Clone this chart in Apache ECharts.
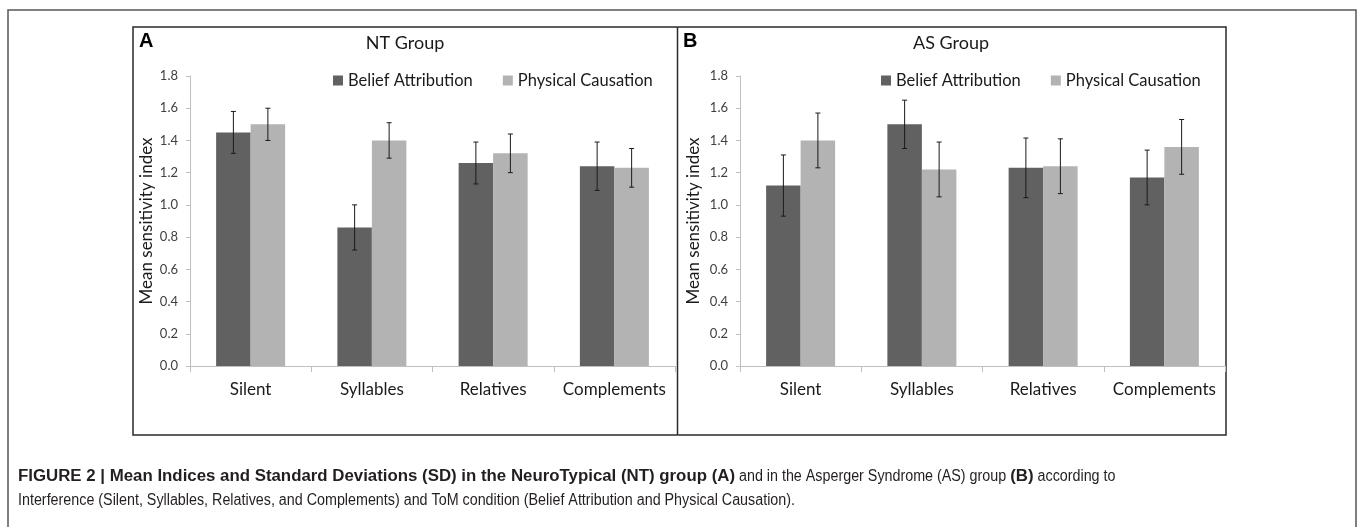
<!DOCTYPE html>
<html>
<head>
<meta charset="utf-8">
<script src="https://cdn.jsdelivr.net/npm/echarts@6/dist/echarts.min.js"></script>
<style>
html,body{margin:0;padding:0;background:#fff;}
#chart{width:1358px;height:527px;}
</style>
</head>
<body>
<div id="chart"></div>
<script>
// ---- data ----
const categories = ['Silent', 'Syllables', 'Relatives', 'Complements'];
const seriesNames = ['Belief Attribution', 'Physical Causation'];
const ntBelief = [1.45, 0.86, 1.26, 1.24];
const ntBeliefSD = [0.13, 0.14, 0.13, 0.15];
const ntPhysical = [1.50, 1.40, 1.32, 1.23];
const ntPhysicalSD = [0.10, 0.11, 0.12, 0.12];
const asBelief = [1.12, 1.50, 1.23, 1.17];
const asBeliefSD = [0.19, 0.15, 0.185, 0.17];
const asPhysical = [1.40, 1.22, 1.24, 1.36];
const asPhysicalSD = [0.17, 0.17, 0.17, 0.17];
const yMin = 0, yMax = 1.8, yStep = 0.2;
const captionLine1 = [
  {text: 'FIGURE 2 | Mean Indices and Standard Deviations (SD) in the NeuroTypical (NT) group (A)', bold: true},
  {text: ' and in the Asperger Syndrome (AS) group ', bold: false},
  {text: '(B)', bold: true},
  {text: ' according to', bold: false}
];
const captionLine2 = 'Interference (Silent, Syllables, Relatives, and Complements) and ToM condition (Belief Attribution and Physical Causation).';

// ---- styles ----
const FONT = 'Lato, "Open Sans", sans-serif';
const CAP_FONT = '"Liberation Sans", Arial, sans-serif';
const DARK = '#616161';
const LIGHT = '#b3b3b3';
const AXIS_C = '#bfbfbf';
const BAR_W = 34.5;

const chart = echarts.init(document.getElementById('chart'), null, {renderer: 'canvas'});

function errRender(sign) {
  return function (params, api) {
    const i = api.value(0), v = api.value(1), sd = api.value(2);
    const t = api.coord([i, v + sd]);
    const b = api.coord([i, v - sd]);
    const x = t[0] + sign * BAR_W / 2;
    const st = {stroke: '#1a1a1a', lineWidth: 1};
    return {
      type: 'group',
      children: [
        {type: 'line', shape: {x1: x, y1: t[1], x2: x, y2: b[1]}, style: st},
        {type: 'line', shape: {x1: x - 2.5, y1: t[1], x2: x + 2.5, y2: t[1]}, style: st},
        {type: 'line', shape: {x1: x - 2.5, y1: b[1], x2: x + 2.5, y2: b[1]}, style: st}
      ]
    };
  };
}
function triples(vals, sds) { return categories.map((c, i) => [i, vals[i], sds[i]]); }

function xAxis(gi) {
  return {
    type: 'category', gridIndex: gi, data: categories,
    axisLine: {lineStyle: {color: AXIS_C, width: 1}},
    axisTick: {show: true, length: 6, lineStyle: {color: AXIS_C}},
    axisLabel: {interval: 0, color: '#1a1a1a', fontFamily: FONT, fontSize: 17, margin: 15}
  };
}
function yAxis(gi, gap) {
  return {
    type: 'value', gridIndex: gi, min: yMin, max: yMax, interval: yStep,
    name: 'Mean sensitivity index', nameLocation: 'middle', nameGap: gap,
    nameTextStyle: {color: '#1a1a1a', fontFamily: FONT, fontSize: 17},
    axisLine: {show: true, lineStyle: {color: AXIS_C, width: 1}},
    axisTick: {show: true, length: 4, lineStyle: {color: AXIS_C}},
    splitLine: {show: false},
    axisLabel: {color: '#404040', fontFamily: FONT, fontSize: 13, margin: 12,
      formatter: v => v.toFixed(1)}
  };
}
function bar(name, gi, data, color) {
  return {type: 'bar', name, xAxisIndex: gi, yAxisIndex: gi, data,
    barWidth: BAR_W, barGap: '0%', itemStyle: {color}, silent: true};
}
function err(gi, vals, sds, sign) {
  return {type: 'custom', name: 'err' + gi + sign, xAxisIndex: gi, yAxisIndex: gi,
    data: triples(vals, sds), renderItem: errRender(sign), z: 5, silent: true,
    encode: {x: 0, y: 1}};
}
function legend(left) {
  return {
    left, top: 72, padding: 0, itemWidth: 10, itemHeight: 10, itemGap: 30,
    icon: 'rect', data: seriesNames,
    textStyle: {color: '#1a1a1a', fontFamily: FONT, fontSize: 16.5},
    selectedMode: false
  };
}

// caption layout (text measured, then placed one piece after another)
const mctx = document.createElement('canvas').getContext('2d');
function measure(text, bold, size) {
  mctx.font = (bold ? 'bold ' : '') + size + 'px ' + CAP_FONT;
  return mctx.measureText(text).width;
}
const CAP_SIZE = 16;
const boldScale = 717 / measure(captionLine1[0].text, true, CAP_SIZE);
const normScale = 777 / measure(captionLine2, false, CAP_SIZE);
const captionEls = [];
let cx = 18;
captionLine1.forEach(seg => {
  const sc = seg.bold ? boldScale : normScale;
  captionEls.push({type: 'text', x: cx, y: 469, scaleX: sc, silent: true,
    style: {text: seg.text, font: (seg.bold ? 'bold ' : '') + CAP_SIZE + 'px ' + CAP_FONT, fill: '#231f20'}});
  cx += measure(seg.text, seg.bold, CAP_SIZE) * sc;
});
captionEls.push({type: 'text', x: 18, y: 493, scaleX: normScale, silent: true,
  style: {text: captionLine2, font: CAP_SIZE + 'px ' + CAP_FONT, fill: '#231f20'}});

const frame = {stroke: '#2a2a2a', lineWidth: 1.5};
const option = {
  animation: false,
  grid: [
    {left: 190, top: 76, width: 485, height: 290},
    {left: 740, top: 76, width: 485, height: 290}
  ],
  xAxis: [xAxis(0), xAxis(1)],
  yAxis: [yAxis(0, 35), yAxis(1, 38)],
  legend: [legend(333), legend(881)],
  title: [
    {text: 'NT Group', left: 405, top: 34, textAlign: 'center', padding: 0,
      textStyle: {fontFamily: FONT, fontSize: 18, fontWeight: 'normal', color: '#1a1a1a'}},
    {text: 'AS Group', left: 951, top: 34, textAlign: 'center', padding: 0,
      textStyle: {fontFamily: FONT, fontSize: 18, fontWeight: 'normal', color: '#1a1a1a'}}
  ],
  series: [
    bar(seriesNames[0], 0, ntBelief, DARK),
    bar(seriesNames[1], 0, ntPhysical, LIGHT),
    bar(seriesNames[0], 1, asBelief, DARK),
    bar(seriesNames[1], 1, asPhysical, LIGHT),
    err(0, ntBelief, ntBeliefSD, -1),
    err(0, ntPhysical, ntPhysicalSD, 1),
    err(1, asBelief, asBeliefSD, -1),
    err(1, asPhysical, asPhysicalSD, 1)
  ],
  graphic: [
    {type: 'rect', shape: {x: 8, y: 10, width: 1348, height: 600}, style: {fill: 'none', stroke: '#555', lineWidth: 1.5}, silent: true},
    {type: 'polyline', shape: {points: [[677.5, 435], [133, 435], [133, 27], [677.5, 27]]}, style: Object.assign({fill: 'none'}, frame), silent: true},
    {type: 'line', shape: {x1: 677.5, y1: 27, x2: 677.5, y2: 435}, style: frame, silent: true},
    {type: 'polyline', shape: {points: [[677.5, 435], [1226, 435], [1226, 27], [677.5, 27]]}, style: Object.assign({fill: 'none'}, frame), silent: true},
    {type: 'text', left: 139, top: 31, style: {text: 'A', font: 'bold 20px "Liberation Sans", Arial, sans-serif', fill: '#000'}},
    {type: 'text', left: 683, top: 31, style: {text: 'B', font: 'bold 20px "Liberation Sans", Arial, sans-serif', fill: '#000'}}
  ].concat(captionEls)
};
chart.setOption(option);
</script>
</body>
</html>
